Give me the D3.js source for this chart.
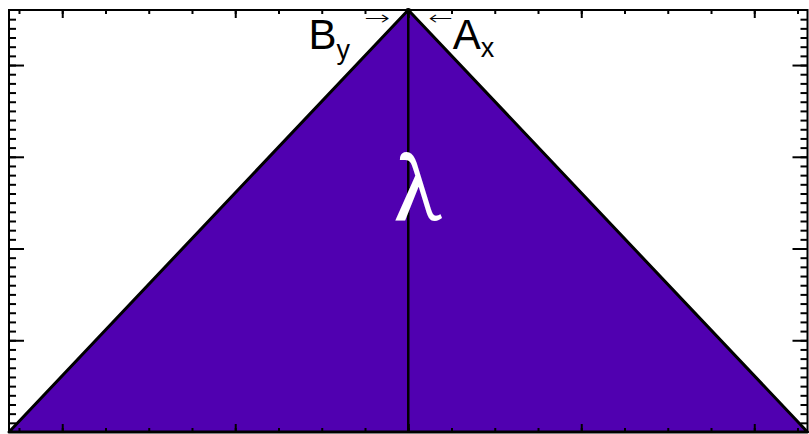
<!DOCTYPE html>
<html>
<head>
<meta charset="utf-8">
<script src="https://cdn.jsdelivr.net/npm/d3@7"></script>
<style>
  html, body { margin: 0; padding: 0; background: #fff; }
  svg { display: block; }
</style>
</head>
<body>
<svg id="chart" width="809" height="434"></svg>
<script>
// Axis extents (data units)
const xDomain = [-30, 30];
const yDomain = [0, 4.6];

// Tick positions
const xMajorTicks = [-26, -13, 0, 13, 26];
const xMinorTicks = [-29.25, -26, -22.75, -19.5, -16.25, -13, -9.75, -6.5, -3.25, 0,
                     3.25, 6.5, 9.75, 13, 16.25, 19.5, 22.75, 26, 29.25];
const yMajorTicks = [1, 2, 3, 4];
const yMinorTicks = d3.range(1, 46).map(i => i / 10);

// Triangle vertices: left foot, apex, right foot
const triangleX = [-30, 0, 30];
const triangleY = [0, 4.6, 0];

// Central divider
const dividerX = [0, 0];
const dividerY = [0, 4.6];

// Labels (position = start of the main letter's baseline)
const labels = [
  { text: "B", sub: "y", x: -7.5, y: 4.18, subDy: 10 },
  { text: "A", sub: "x", x: 3.35, y: 4.18, subDy: 8 }
];
// Arrows: start x, baseline y, span in x units
const arrows = [
  { text: "→", x: -3.3, y: 4.44, span: 1.95 },
  { text: "←", x: 1.5, y: 4.44, span: 1.85 }
];
const symbolLabel = { text: "λ", x: 0.6, y: 2.31 };

const svg = d3.select("#chart");
const margin = { left: 9, right: 1.5, top: 10, bottom: 2 };
const W = 809, H = 434;

const x = d3.scaleLinear().domain(xDomain).range([margin.left, W - margin.right]);
const y = d3.scaleLinear().domain(yDomain).range([H - margin.bottom, margin.top]);

const plot = svg.append("g");

// Filled triangle
const pts = triangleX.map((d, i) => [x(d), y(triangleY[i])]);
plot.append("path")
  .attr("d", d3.line()(pts) + "Z")
  .attr("fill", "#5000b0")
  .attr("stroke", "#000")
  .attr("stroke-width", 3)
  .attr("stroke-linejoin", "round");

plot.append("line")
  .attr("x1", x(dividerX[0])).attr("x2", x(dividerX[1]))
  .attr("y1", y(dividerY[0])).attr("y2", y(dividerY[1]))
  .attr("stroke", "#000").attr("stroke-width", 2.5);

// Axes with inward ticks on all four sides
function addAxis(axisFn, scale, ticks, size, transform) {
  svg.append("g")
    .attr("transform", transform)
    .call(axisFn(scale).tickValues(ticks).tickSize(size).tickFormat(""))
    .call(g => g.select(".domain").remove())
    .call(g => g.selectAll("line").attr("stroke", "#000").attr("stroke-width", 2));
}
const x0 = x(xDomain[0]), x1 = x(xDomain[1]);
const y0 = y(yDomain[0]), y1 = y(yDomain[1]);

addAxis(d3.axisTop, x, xMinorTicks, 4, `translate(0,${y0})`);
addAxis(d3.axisTop, x, xMajorTicks, 8, `translate(0,${y0})`);
addAxis(d3.axisBottom, x, xMinorTicks, 4, `translate(0,${y1})`);
addAxis(d3.axisBottom, x, xMajorTicks, 8, `translate(0,${y1})`);
addAxis(d3.axisRight, y, yMinorTicks, 7, `translate(${x0},0)`);
addAxis(d3.axisRight, y, yMajorTicks, 15, `translate(${x0},0)`);
addAxis(d3.axisLeft, y, yMinorTicks, 7, `translate(${x1},0)`);
addAxis(d3.axisLeft, y, yMajorTicks, 15, `translate(${x1},0)`);

// Frame
svg.append("rect")
  .attr("x", x0).attr("y", y1)
  .attr("width", x1 - x0).attr("height", y0 - y1)
  .attr("fill", "none").attr("stroke", "#000").attr("stroke-width", 2);

// Apex cap
svg.append("circle")
  .attr("cx", x(0)).attr("cy", y(4.6) + 1).attr("r", 3).attr("fill", "#000");

// Text labels
labels.forEach(l => {
  const t = svg.append("text")
    .attr("x", x(l.x)).attr("y", y(l.y))
    .attr("font-family", "'Liberation Sans', Arial, sans-serif")
    .attr("font-size", 42)
    .attr("fill", "#000");
  t.append("tspan").text(l.text);
  t.append("tspan").attr("font-size", 27).attr("dy", l.subDy).text(l.sub);
});

// Thin arrows, stretched horizontally to their span
arrows.forEach(a => {
  const g = svg.append("g")
    .attr("transform", `translate(${x(a.x)},${y(a.y)})`);
  const t = g.append("text")
    .attr("font-family", "'DejaVu Sans', sans-serif")
    .attr("font-size", 20)
    .attr("font-weight", 200)
    .attr("fill", "#000")
    .text(a.text);
  const w = t.node().getComputedTextLength();
  const target = x(a.x + a.span) - x(a.x);
  t.attr("transform", `scale(${target / w},1)`);
});

svg.append("text")
  .attr("x", x(symbolLabel.x)).attr("y", y(symbolLabel.y))
  .attr("text-anchor", "middle")
  .attr("font-family", "'Noto Serif', 'Liberation Serif', serif")
  .attr("font-size", 88)
  .attr("fill", "#fff")
  .text(symbolLabel.text);
</script>
</body>
</html>
